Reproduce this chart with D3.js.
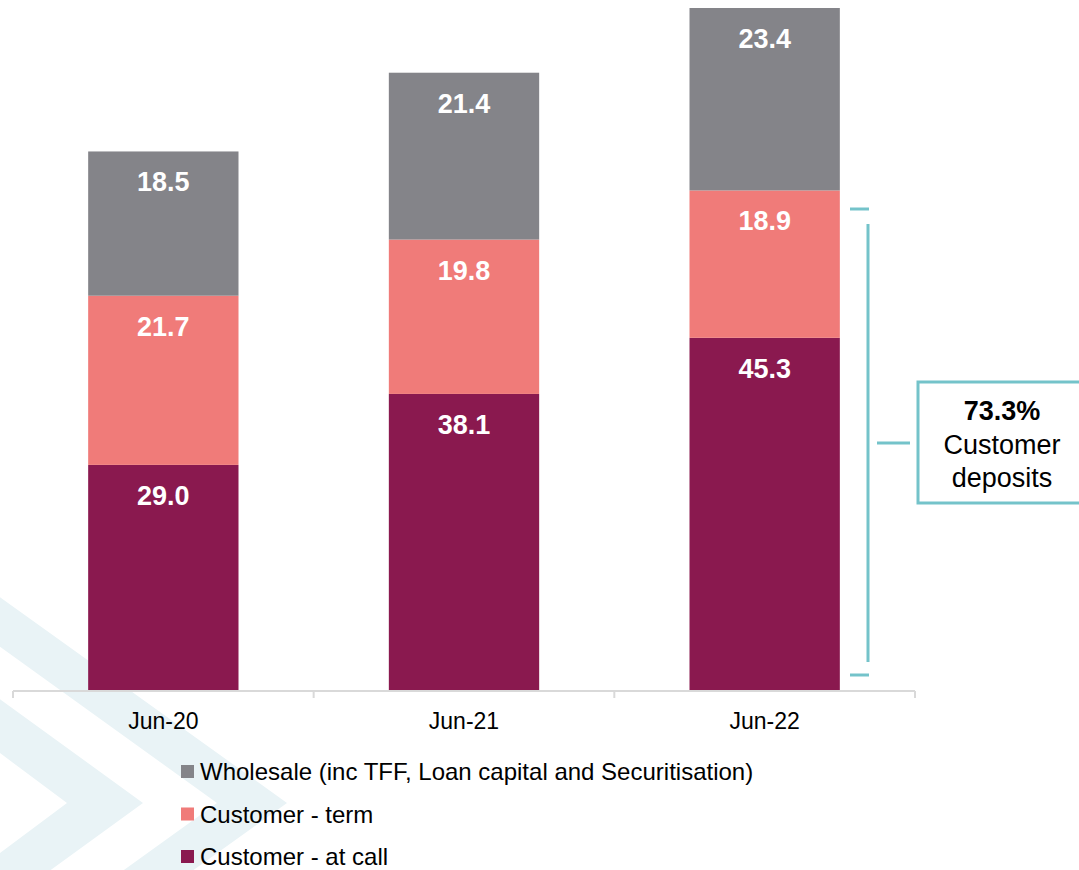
<!DOCTYPE html>
<meta charset="utf-8">
<script src="https://d3js.org/d3.v7.min.js"></script>
<style>
  body { margin: 0; background: #fff; }
  svg { display: block; font-family: "Liberation Sans", Arial, sans-serif; }
</style>
<div id="my_dataviz"></div>
<script>

// data
var periods = ["Jun-20", "Jun-21", "Jun-22"];
var atCall = [29.0, 38.1, 45.3];
var term = [21.7, 19.8, 18.9];
var wholesale = [18.5, 21.4, 23.4];
var seriesNames = ["Customer - at call", "Customer - term", "Wholesale (inc TFF, Loan capital and Securitisation)"];
var seriesColors = ["#8a194f", "#f07b79", "#848489"];
var calloutPct = "73.3%";

var W = 1079, H = 870;

var svg = d3.select("#my_dataviz")
  .append("svg")
    .attr("width", W)
    .attr("height", H);

// background chevrons
var bg = svg.append("g").attr("fill", "#e9f3f6");
function chevron(outerTip, innerTip, tipY, slope) {
  var dyO = outerTip * slope + 10, dyI = innerTip * slope + 10;
  return "M-10," + (tipY - dyO) + "L" + outerTip + "," + tipY + "L-10," + (tipY + dyO) +
         "L-10," + (tipY + dyI) + "L" + innerTip + "," + tipY + "L-10," + (tipY - dyI) + "Z";
}
bg.append("path").attr("d", chevron(287, 217, 803, 0.707));
bg.append("path").attr("d", chevron(143, 67, 803, 0.707));

var margin = {left: 13, right: 164, top: 8, baseline: 691};

var x = d3.scaleBand()
  .domain(periods)
  .range([margin.left, W - margin.right])
  .padding(0.5)
  .paddingOuter(0.25);

var y = d3.scaleLinear()
  .domain([0, 87.6])
  .range([margin.baseline, margin.top]);

var table = periods.map(function(p, i) {
  return {period: p, atCall: atCall[i], term: term[i], wholesale: wholesale[i]};
});
var stack = d3.stack().keys(["atCall", "term", "wholesale"])(table);

// bars
var layers = svg.selectAll("g.layer")
  .data(stack)
  .enter()
  .append("g")
    .attr("class", "layer")
    .attr("fill", function(d, i) { return seriesColors[i]; });

layers.selectAll("rect")
  .data(function(d) { return d; })
  .enter()
  .append("rect")
    .attr("x", function(d) { return x(d.data.period); })
    .attr("y", function(d) { return y(d[1]); })
    .attr("width", x.bandwidth())
    .attr("height", function(d) { return y(d[0]) - y(d[1]); });

// value labels
layers.selectAll("text")
  .data(function(d) { return d; })
  .enter()
  .append("text")
    .attr("x", function(d) { return x(d.data.period) + x.bandwidth() / 2; })
    .attr("y", function(d) { return y(d[1]) + 40; })
    .attr("text-anchor", "middle")
    .attr("fill", "#fff")
    .style("font-size", "27px")
    .style("font-weight", "bold")
    .text(function(d) { return (d[1] - d[0]).toFixed(1); });

// x axis
var outer = d3.scaleBand().domain(periods).range([margin.left, W - margin.right]);
var axis = svg.append("g").attr("transform", "translate(0," + margin.baseline + ")");
axis.append("line")
  .attr("x1", margin.left).attr("x2", W - margin.right)
  .attr("stroke", "#d9d9d9").attr("stroke-width", 2);
axis.selectAll("line.tick")
  .data(periods.concat([null]))
  .enter()
  .append("line")
    .attr("class", "tick")
    .attr("x1", function(d, i) { return margin.left + i * outer.step(); })
    .attr("x2", function(d, i) { return margin.left + i * outer.step(); })
    .attr("y1", 0).attr("y2", 7)
    .attr("stroke", "#d9d9d9").attr("stroke-width", 2);
axis.selectAll("text")
  .data(periods)
  .enter()
  .append("text")
    .attr("x", function(d) { return outer(d) + outer.bandwidth() / 2; })
    .attr("y", 38)
    .attr("text-anchor", "middle")
    .style("font-size", "23px")
    .attr("fill", "#000")
    .text(function(d) { return d; });

// bracket annotation
var teal = "#74c3ca";
var ann = svg.append("g").attr("stroke", teal).attr("stroke-width", 3).attr("fill", "none");
ann.append("line").attr("x1", 850).attr("x2", 869).attr("y1", 209).attr("y2", 209);
ann.append("line").attr("x1", 868).attr("x2", 868).attr("y1", 224).attr("y2", 662);
ann.append("line").attr("x1", 850).attr("x2", 869).attr("y1", 675).attr("y2", 675);
ann.append("line").attr("x1", 877).attr("x2", 910).attr("y1", 443).attr("y2", 443);
ann.append("rect").attr("x", 918).attr("y", 382).attr("width", 180).attr("height", 121);

var box = svg.append("g").attr("text-anchor", "middle").style("font-size", "27px").attr("fill", "#000");
box.append("text").attr("x", 1002).attr("y", 420).style("font-weight", "bold").text(calloutPct);
box.append("text").attr("x", 1002).attr("y", 454).text("Customer");
box.append("text").attr("x", 1002).attr("y", 487).text("deposits");

// legend
var legendOrder = [2, 1, 0];
var legend = svg.selectAll("g.legend")
  .data(legendOrder)
  .enter()
  .append("g")
    .attr("class", "legend")
    .attr("transform", function(d, i) { return "translate(181," + (772 + i * 42.5) + ")"; });
legend.append("rect")
  .attr("x", 0).attr("y", -7)
  .attr("width", 13).attr("height", 13)
  .attr("fill", function(d) { return seriesColors[d]; });
legend.append("text")
  .attr("x", 19).attr("y", 8)
  .style("font-size", "24px")
  .attr("fill", "#000")
  .text(function(d) { return seriesNames[d]; });

</script>
